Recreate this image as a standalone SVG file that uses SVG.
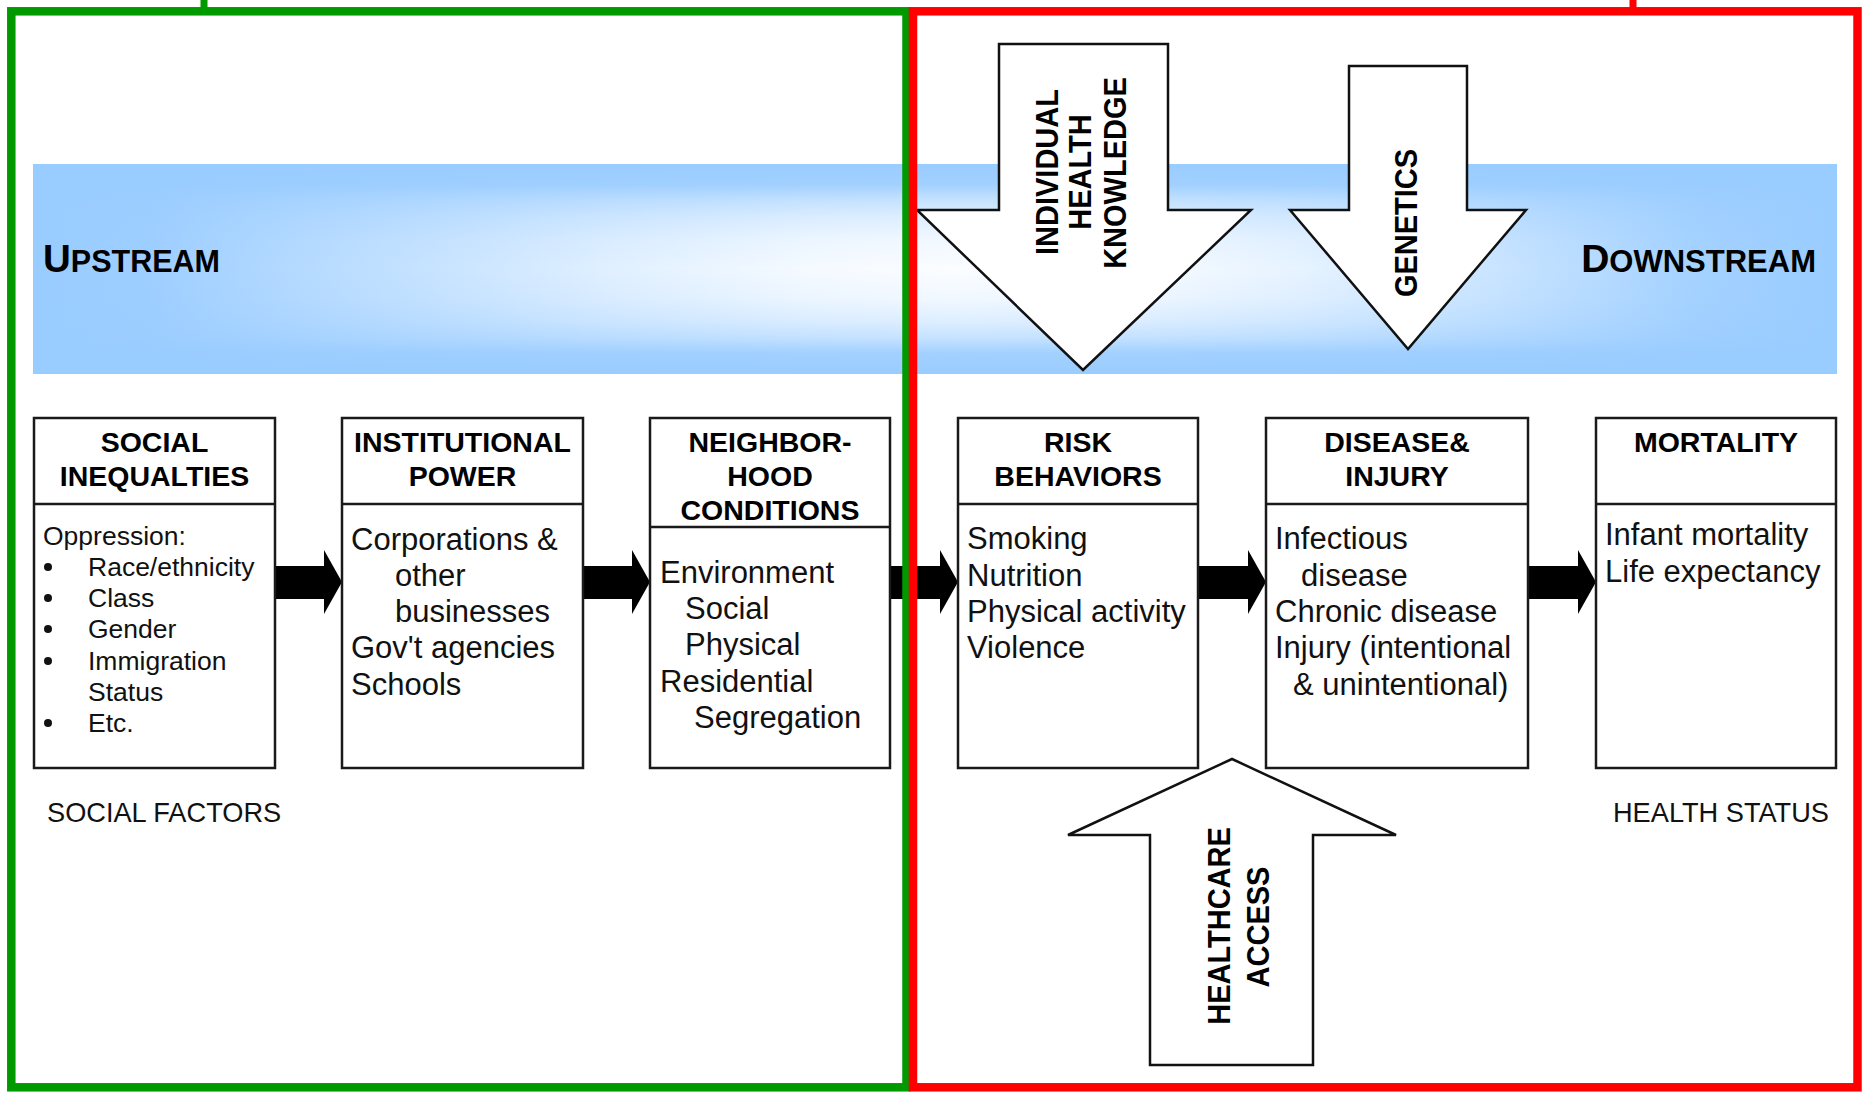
<svg xmlns="http://www.w3.org/2000/svg" width="1865" height="1096" viewBox="0 0 1865 1096">
<style>
text { font-family: "Liberation Sans", Arial, Helvetica, sans-serif; fill: #000; }
.hdr { font-weight: bold; font-size: 28.5px; text-anchor: middle; }
.body { font-size: 31px; fill: #111; }
.sm { font-size: 26.5px; fill: #111; }
.lbl { font-size: 27.2px; fill: #111; }
.rot { font-weight: bold; font-size: 29px; text-anchor: middle; }
.band-t { font-weight: bold; }
.box { fill: #fff; stroke: #1a1a1a; stroke-width: 2.5; }
.div { stroke: #1a1a1a; stroke-width: 2.5; }
.big { fill: #fff; stroke: #111; stroke-width: 2.5; stroke-linejoin: miter; }
.conn { fill: #000; }
</style>
<defs>
<linearGradient id="bandH" gradientUnits="userSpaceOnUse" x1="33" y1="0" x2="1837" y2="0">
<stop offset="0" stop-color="#99CCFF" stop-opacity="1"/>
<stop offset="0.065" stop-color="#99CCFF" stop-opacity="0.95"/>
<stop offset="0.153" stop-color="#99CCFF" stop-opacity="0.7"/>
<stop offset="0.32" stop-color="#99CCFF" stop-opacity="0.27"/>
<stop offset="0.43" stop-color="#99CCFF" stop-opacity="0.06"/>
<stop offset="0.51" stop-color="#99CCFF" stop-opacity="0"/>
<stop offset="0.62" stop-color="#99CCFF" stop-opacity="0.06"/>
<stop offset="0.70" stop-color="#99CCFF" stop-opacity="0.2"/>
<stop offset="0.81" stop-color="#99CCFF" stop-opacity="0.5"/>
<stop offset="0.92" stop-color="#99CCFF" stop-opacity="0.88"/>
<stop offset="1" stop-color="#99CCFF" stop-opacity="1"/>
</linearGradient>
<linearGradient id="bandV" gradientUnits="userSpaceOnUse" x1="0" y1="164" x2="0" y2="374">
<stop offset="0" stop-color="#99CCFF" stop-opacity="1"/>
<stop offset="0.1" stop-color="#99CCFF" stop-opacity="0.9"/>
<stop offset="0.17" stop-color="#99CCFF" stop-opacity="0.55"/>
<stop offset="0.25" stop-color="#99CCFF" stop-opacity="0.3"/>
<stop offset="0.36" stop-color="#99CCFF" stop-opacity="0.1"/>
<stop offset="0.5" stop-color="#99CCFF" stop-opacity="0"/>
<stop offset="0.64" stop-color="#99CCFF" stop-opacity="0.1"/>
<stop offset="0.75" stop-color="#99CCFF" stop-opacity="0.3"/>
<stop offset="0.83" stop-color="#99CCFF" stop-opacity="0.55"/>
<stop offset="0.9" stop-color="#99CCFF" stop-opacity="0.9"/>
<stop offset="1" stop-color="#99CCFF" stop-opacity="1"/>
</linearGradient>
</defs>
<rect x="0" y="0" width="1865" height="1096" fill="#fff"/>

<g id="stream-band">
<rect x="33" y="164" width="1804" height="210" fill="#fbfdff"/>
<rect x="33" y="164" width="1804" height="210" fill="url(#bandH)"/>
<rect x="33" y="164" width="1804" height="210" fill="url(#bandV)"/>
<text class="band-t" x="43" y="272"><tspan font-size="38.5">U</tspan><tspan font-size="30.5">PSTREAM</tspan></text>
<text class="band-t" x="1816" y="272" text-anchor="end"><tspan font-size="39">D</tspan><tspan font-size="31">OWNSTREAM</tspan></text>
</g>

<g id="individual-health-knowledge">
<path class="big" d="M999,44 H1168 V210 H1251 L1083,370 L917,210 H999 Z"/>
<text class="rot" transform="translate(1058 172) scale(1.08 1) rotate(-90)">INDIVIDUAL</text>
<text class="rot" transform="translate(1091 172) scale(1.08 1) rotate(-90)">HEALTH</text>
<text class="rot" transform="translate(1126 173) scale(1.08 1) rotate(-90)">KNOWLEDGE</text>
</g>

<g id="genetics">
<path class="big" d="M1349,66 H1467 V210 H1526 L1408,349 L1290,210 H1349 Z"/>
<text class="rot" transform="translate(1417 223) scale(1.08 1) rotate(-90)">GENETICS</text>
</g>

<g id="connectors">
<path class="conn" d="M275,566 H324 V550 L342,582 L324,614 V599 H275 Z"/>
<path class="conn" d="M583,566 H632 V550 L650,582 L632,614 V599 H583 Z"/>
<path class="conn" d="M890,566 H940 V550 L958,582 L940,614 V599 H890 Z"/>
<path class="conn" d="M1198,566 H1248 V550 L1266,582 L1248,614 V599 H1198 Z"/>
<path class="conn" d="M1528,566 H1578 V550 L1596,582 L1578,614 V599 H1528 Z"/>
</g>

<g id="social-inequalities">
<rect class="box" x="34" y="418" width="241" height="350"/>
<line class="div" x1="34" y1="504" x2="275" y2="504"/>
<text class="hdr" x="154.5" y="452">SOCIAL</text>
<text class="hdr" x="154.5" y="486">INEQUALTIES</text>
<text class="sm" x="43" y="545">Oppression:</text>
<circle cx="48" cy="567" r="4" fill="#111"/>
<text class="sm" x="88" y="576">Race/ethnicity</text>
<circle cx="48" cy="598" r="4" fill="#111"/>
<text class="sm" x="88" y="607">Class</text>
<circle cx="48" cy="629" r="4" fill="#111"/>
<text class="sm" x="88" y="638">Gender</text>
<circle cx="48" cy="661" r="4" fill="#111"/>
<text class="sm" x="88" y="670">Immigration</text>
<text class="sm" x="88" y="701">Status</text>
<circle cx="48" cy="723" r="4" fill="#111"/>
<text class="sm" x="88" y="732">Etc.</text>
</g>

<g id="institutional-power">
<rect class="box" x="342" y="418" width="241" height="350"/>
<line class="div" x1="342" y1="504" x2="583" y2="504"/>
<text class="hdr" x="462.5" y="452">INSTITUTIONAL</text>
<text class="hdr" x="462.5" y="486">POWER</text>
<text class="body" x="351" y="550">Corporations &amp;</text>
<text class="body" x="395" y="586">other</text>
<text class="body" x="395" y="622">businesses</text>
<text class="body" x="351" y="658">Gov't agencies</text>
<text class="body" x="351" y="695">Schools</text>
</g>

<g id="neighborhood-conditions">
<rect class="box" x="650" y="418" width="240" height="350"/>
<line class="div" x1="650" y1="527" x2="890" y2="527"/>
<text class="hdr" x="770" y="452">NEIGHBOR-</text>
<text class="hdr" x="770" y="486">HOOD</text>
<text class="hdr" x="770" y="520">CONDITIONS</text>
<text class="body" x="660" y="583">Environment</text>
<text class="body" x="685" y="619">Social</text>
<text class="body" x="685" y="655">Physical</text>
<text class="body" x="660" y="692">Residential</text>
<text class="body" x="694" y="728">Segregation</text>
</g>

<g id="risk-behaviors">
<rect class="box" x="958" y="418" width="240" height="350"/>
<line class="div" x1="958" y1="504" x2="1198" y2="504"/>
<text class="hdr" x="1078" y="452">RISK</text>
<text class="hdr" x="1078" y="486">BEHAVIORS</text>
<text class="body" x="967" y="549">Smoking</text>
<text class="body" x="967" y="586">Nutrition</text>
<text class="body" x="967" y="622">Physical activity</text>
<text class="body" x="967" y="658">Violence</text>
</g>

<g id="disease-injury">
<rect class="box" x="1266" y="418" width="262" height="350"/>
<line class="div" x1="1266" y1="504" x2="1528" y2="504"/>
<text class="hdr" x="1397" y="452">DISEASE&amp;</text>
<text class="hdr" x="1397" y="486">INJURY</text>
<text class="body" x="1275" y="549">Infectious</text>
<text class="body" x="1301" y="586">disease</text>
<text class="body" x="1275" y="622">Chronic disease</text>
<text class="body" x="1275" y="658">Injury (intentional</text>
<text class="body" x="1293" y="695">&amp; unintentional)</text>
</g>

<g id="mortality">
<rect class="box" x="1596" y="418" width="240" height="350"/>
<line class="div" x1="1596" y1="504" x2="1836" y2="504"/>
<text class="hdr" x="1716" y="452">MORTALITY</text>
<text class="body" x="1605" y="545">Infant mortality</text>
<text class="body" x="1605" y="582">Life expectancy</text>
</g>

<g id="healthcare-access">
<path class="big" d="M1232,759 L1396,835 H1313 V1065 H1150 V835 H1068 Z"/>
<text class="rot" transform="translate(1230 926) scale(1.08 1) rotate(-90)">HEALTHCARE</text>
<text class="rot" transform="translate(1269 927) scale(1.08 1) rotate(-90)">ACCESS</text>
</g>

<g id="labels">
<text class="lbl" x="47" y="822">SOCIAL FACTORS</text>
<text class="lbl" x="1829" y="822" text-anchor="end">HEALTH STATUS</text>
</g>

<g id="frames" fill="none" stroke-width="8.5">
<rect x="11.3" y="11.3" width="895.2" height="1076" stroke="#009900"/>
<line x1="204" y1="0" x2="204" y2="9" stroke="#009900" stroke-width="7"/>
<rect x="913" y="11.3" width="944.5" height="1076" stroke="#FF0000"/>
<line x1="1633" y1="0" x2="1633" y2="9" stroke="#FF0000" stroke-width="7"/>
</g>
</svg>
